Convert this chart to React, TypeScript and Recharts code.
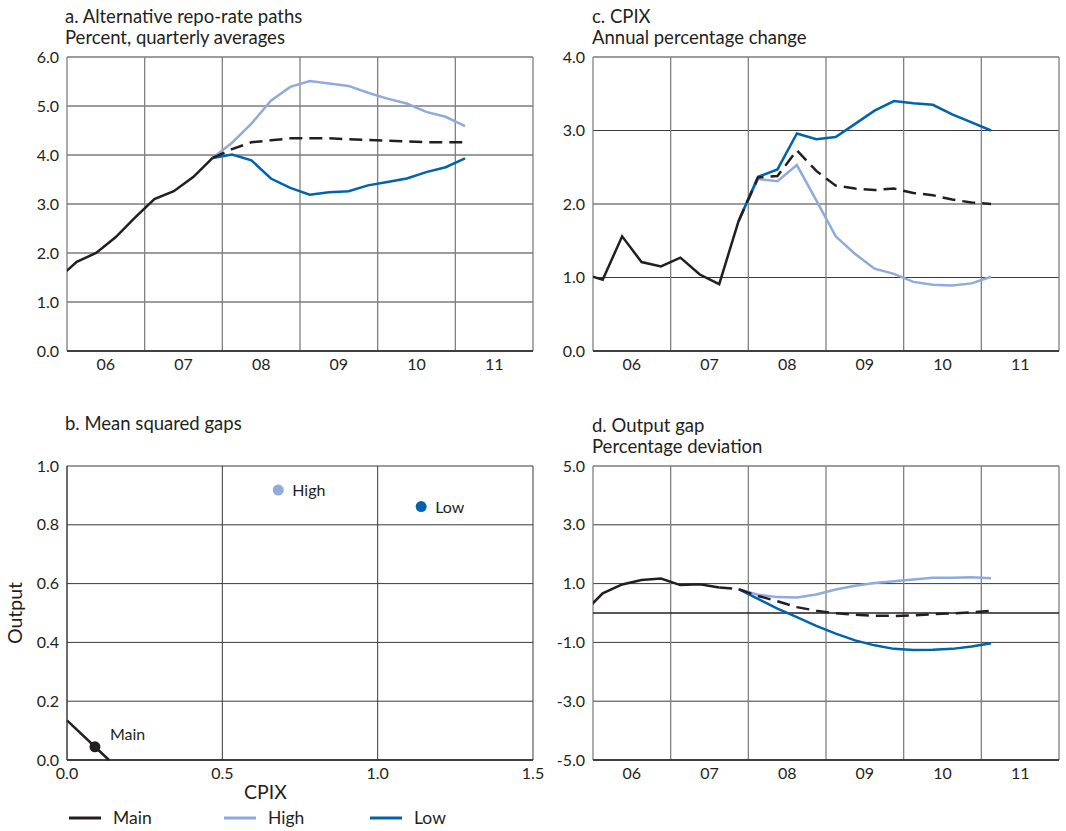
import React from "react";
import {
  ComposedChart,
  Line,
  XAxis,
  YAxis,
  CartesianGrid,
  ReferenceLine,
  Scatter,
} from "recharts";

const FONT = "Lato, 'Open Sans', sans-serif";
const INK = "#231f20";
const HIGH_C = "#8fabdc";
const LOW_C = "#0063ad";
const H_GRID = "#3a3a3a";
const V_GRID = "#808080";

// quarterly points, drawn mid-quarter; 05Q4 sits left of the axis and gets clipped
const quarters = [
  "05Q4", "06Q1", "06Q2", "06Q3", "06Q4", "07Q1", "07Q2", "07Q3", "07Q4",
  "08Q1", "08Q2", "08Q3", "08Q4", "09Q1", "09Q2", "09Q3", "09Q4",
  "10Q1", "10Q2", "10Q3", "10Q4", "11Q1",
];
const years = ["06", "07", "08", "09", "10", "11"];

// a. repo rate
const repoHist = [1.46, 1.82, 2.0, 2.32, 2.72, 3.1, 3.26, 3.55, 3.94]; // 05Q4-07Q4
const repoMain = [3.94, 4.12, 4.26, 4.3, 4.34, 4.34, 4.34, 4.32, 4.31, 4.29, 4.28, 4.26, 4.26, 4.26]; // 07Q4-11Q1
const repoHigh = [3.94, 4.25, 4.64, 5.11, 5.39, 5.51, 5.46, 5.41, 5.27, 5.15, 5.05, 4.88, 4.78, 4.59];
const repoLow = [3.94, 4.01, 3.89, 3.52, 3.33, 3.19, 3.24, 3.26, 3.38, 3.45, 3.52, 3.65, 3.75, 3.93];

// c. CPIX
const cpixHist = [1.05, 0.97, 1.56, 1.21, 1.15, 1.27, 1.04, 0.91, 1.77]; // 05Q4-07Q4
const cpixMain = [1.77, 2.36, 2.38, 2.73, 2.45, 2.25, 2.21, 2.19, 2.21, 2.15, 2.12, 2.06, 2.02, 2.0];
const cpixHigh = [1.77, 2.34, 2.31, 2.53, 2.05, 1.56, 1.32, 1.12, 1.05, 0.94, 0.9, 0.89, 0.92, 1.01];
const cpixLow = [1.77, 2.37, 2.47, 2.96, 2.88, 2.91, 3.09, 3.27, 3.4, 3.37, 3.35, 3.22, 3.11, 3.0];

// d. output gap
const gapHist = [0.0, 0.67, 0.97, 1.12, 1.17, 0.95, 0.98, 0.87]; // 05Q4-07Q3
const gapMain = [0.87, 0.81, 0.58, 0.4, 0.2, 0.08, -0.01, -0.06, -0.09, -0.1, -0.08, -0.04, -0.01, 0.02, 0.07]; // 07Q3-11Q1
const gapHigh = [0.81, 0.62, 0.54, 0.53, 0.63, 0.8, 0.93, 1.02, 1.08, 1.14, 1.2, 1.2, 1.22, 1.18]; // 07Q4-11Q1
const gapLow = [0.81, 0.48, 0.15, -0.14, -0.44, -0.7, -0.93, -1.1, -1.22, -1.26, -1.25, -1.22, -1.14, -1.03];

// b. mean squared gaps
const lossPoints = [
  { name: "Main", x: 0.09, y: 0.045 },
  { name: "High", x: 0.68, y: 0.918 },
  { name: "Low", x: 1.14, y: 0.862 },
];
const isoLoss = [
  { x: 0, y: 0.135 },
  { x: 0.135, y: 0 },
];

const pointColor: Record<string, string> = { Main: INK, High: HIGH_C, Low: LOW_C };

const yearEdges = [...years.map((_, i) => i * 4), years.length * 4];
const yearMids = years.map((_, i) => i * 4 + 2);

const qPos = (q: string) => (Number(q.slice(0, 2)) - 6) * 4 + Number(q[3]) - 0.5;

function buildRows(parts: [string, string, number[]][]) {
  return quarters.map((q, i) => {
    const row: any = { q, x: qPos(q) };
    parts.forEach(([key, from, vals]) => {
      const v = vals[i - quarters.indexOf(from)];
      row[key] = v === undefined ? null : v;
    });
    return row;
  });
}

const repoRows = buildRows([
  ["hist", "05Q4", repoHist],
  ["main", "07Q4", repoMain],
  ["high", "07Q4", repoHigh],
  ["low", "07Q4", repoLow],
]);
const cpixRows = buildRows([
  ["hist", "05Q4", cpixHist],
  ["main", "07Q4", cpixMain],
  ["high", "07Q4", cpixHigh],
  ["low", "07Q4", cpixLow],
]);
const gapRows = buildRows([
  ["hist", "05Q4", gapHist],
  ["main", "07Q3", gapMain],
  ["high", "07Q4", gapHigh],
  ["low", "07Q4", gapLow],
]);

const tickStyle = { fontSize: 16, fill: INK, fontFamily: FONT };

function TimePanel({
  data,
  domain,
  ticks,
  left,
  top,
  width,
  marginLeft,
  marginRight,
  marginTop,
  zeroLine,
}: any) {
  return (
    <div style={{ position: "absolute", left, top }}>
      <ComposedChart
        width={width}
        height={marginTop + 294 + 30}
        data={data}
        margin={{ top: marginTop, right: marginRight, left: marginLeft, bottom: 0 }}
      >
        <CartesianGrid vertical={false} stroke={H_GRID} strokeWidth={1} />
        {yearEdges.map((x) => (
          <ReferenceLine key={x} x={x} stroke={V_GRID} strokeWidth={1.3} />
        ))}
        {zeroLine && <ReferenceLine y={0} stroke={INK} strokeWidth={1.3} />}
        <XAxis
          type="number"
          dataKey="x"
          domain={[0, 24]}
          allowDataOverflow
          ticks={yearMids}
          interval={0}
          tickFormatter={(v) => years[(v - 2) / 4]}
          tickLine={false}
          axisLine={{ stroke: INK, strokeWidth: 1.6 }}
          tick={tickStyle}
          height={30}
        />
        <YAxis
          type="number"
          domain={domain}
          ticks={ticks}
          interval={0}
          allowDataOverflow
          tickFormatter={(v) => v.toFixed(1)}
          tickLine={false}
          axisLine={false}
          tick={tickStyle}
          width={60}
        />
        <Line type="linear" dataKey="high" stroke={HIGH_C} strokeWidth={2.5} dot={false} isAnimationActive={false} />
        <Line type="linear" dataKey="low" stroke={LOW_C} strokeWidth={2.5} dot={false} isAnimationActive={false} />
        <Line
          type="linear"
          dataKey="main"
          stroke={INK}
          strokeWidth={2.5}
          strokeDasharray="13 7"
          dot={false}
          isAnimationActive={false}
        />
        <Line type="linear" dataKey="hist" stroke={INK} strokeWidth={2.5} dot={false} isAnimationActive={false} />
      </ComposedChart>
    </div>
  );
}

function LossPoint(props: any) {
  const { cx, cy, payload } = props;
  const color = pointColor[payload.name];
  const isMain = payload.name === "Main";
  return (
    <g>
      <circle cx={cx} cy={cy} r={5.5} fill={color} />
      <text
        x={cx + (isMain ? 15 : 14)}
        y={cy + (isMain ? -7 : 6)}
        fontSize={16}
        fill={INK}
        fontFamily={FONT}
      >
        {payload.name}
      </text>
    </g>
  );
}

function LossPanel() {
  return (
    <div style={{ position: "absolute", left: 0, top: 400 }}>
      <ComposedChart width={545} height={390} margin={{ top: 66, right: 12, left: 7, bottom: 0 }}>
        <CartesianGrid stroke={H_GRID} />
        <XAxis
          type="number"
          dataKey="x"
          domain={[0, 1.5]}
          ticks={[0, 0.5, 1, 1.5]}
          interval={0}
          tickFormatter={(v) => v.toFixed(1)}
          tickLine={false}
          axisLine={{ stroke: INK, strokeWidth: 1.6 }}
          tick={tickStyle}
          height={30}
        />
        <YAxis
          type="number"
          dataKey="y"
          domain={[0, 1]}
          ticks={[0, 0.2, 0.4, 0.6, 0.8, 1]}
          interval={0}
          tickFormatter={(v) => v.toFixed(1)}
          tickLine={false}
          axisLine={{ stroke: H_GRID }}
          tick={tickStyle}
          width={60}
        />
        <Line data={isoLoss} type="linear" dataKey="y" stroke={INK} strokeWidth={2.5} dot={false} isAnimationActive={false} />
        <Scatter data={lossPoints} dataKey="y" shape={<LossPoint />} isAnimationActive={false} />
      </ComposedChart>
    </div>
  );
}

const titleStyle: React.CSSProperties = {
  position: "absolute",
  fontFamily: FONT,
  fontSize: 18.5,
  lineHeight: "21px",
  color: INK,
  whiteSpace: "nowrap",
};

function Title({ left, top, lines }: { left: number; top: number; lines: string[] }) {
  return (
    <div style={{ ...titleStyle, left, top }}>
      {lines.map((l) => (
        <div key={l}>{l}</div>
      ))}
    </div>
  );
}

const legendItems = [
  { name: "Main", color: INK, left: 69 },
  { name: "High", color: HIGH_C, left: 224 },
  { name: "Low", color: LOW_C, left: 370 },
];

export default function App() {
  return (
    <div
      style={{
        position: "absolute",
        left: 0,
        top: 0,
        width: 1066,
        height: 831,
        background: "#fff",
        fontFamily: FONT,
      }}
    >
      <Title left={65} top={6} lines={["a. Alternative repo-rate paths", "Percent, quarterly averages"]} />
      <Title left={592} top={6} lines={["c. CPIX", "Annual percentage change"]} />
      <Title left={65} top={413} lines={["b. Mean squared gaps"]} />
      <Title left={592} top={415} lines={["d. Output gap", "Percentage deviation"]} />

      <TimePanel
        data={repoRows}
        domain={[0, 6]}
        ticks={[0, 1, 2, 3, 4, 5, 6]}
        left={0}
        top={0}
        width={545}
        marginLeft={7}
        marginRight={12}
        marginTop={57}
      />
      <TimePanel
        data={cpixRows}
        domain={[0, 4]}
        ticks={[0, 1, 2, 3, 4]}
        left={530}
        top={0}
        width={536}
        marginLeft={3}
        marginRight={7}
        marginTop={57}
      />
      <LossPanel />
      <TimePanel
        data={gapRows}
        domain={[-5, 5]}
        ticks={[-5, -3, -1, 1, 3, 5]}
        left={530}
        top={400}
        width={536}
        marginLeft={3}
        marginRight={7}
        marginTop={66}
        zeroLine
      />

      <div style={{ ...titleStyle, fontSize: 19.5, left: 244, top: 781 }}>CPIX</div>
      <div
        style={{
          ...titleStyle,
          fontSize: 19.5,
          left: 14,
          top: 613,
          transform: "translate(-50%, -50%) rotate(-90deg)",
        }}
      >
        Output
      </div>

      {legendItems.map((it) => (
        <div
          key={it.name}
          style={{
            position: "absolute",
            left: it.left,
            top: 807,
            display: "flex",
            alignItems: "center",
            gap: 12,
            fontFamily: FONT,
            fontSize: 17.5,
            color: INK,
          }}
        >
          <svg width={32} height={6}>
            <line x1={0} y1={3} x2={32} y2={3} stroke={it.color} strokeWidth={3} />
          </svg>
          <span>{it.name}</span>
        </div>
      ))}
    </div>
  );
}
